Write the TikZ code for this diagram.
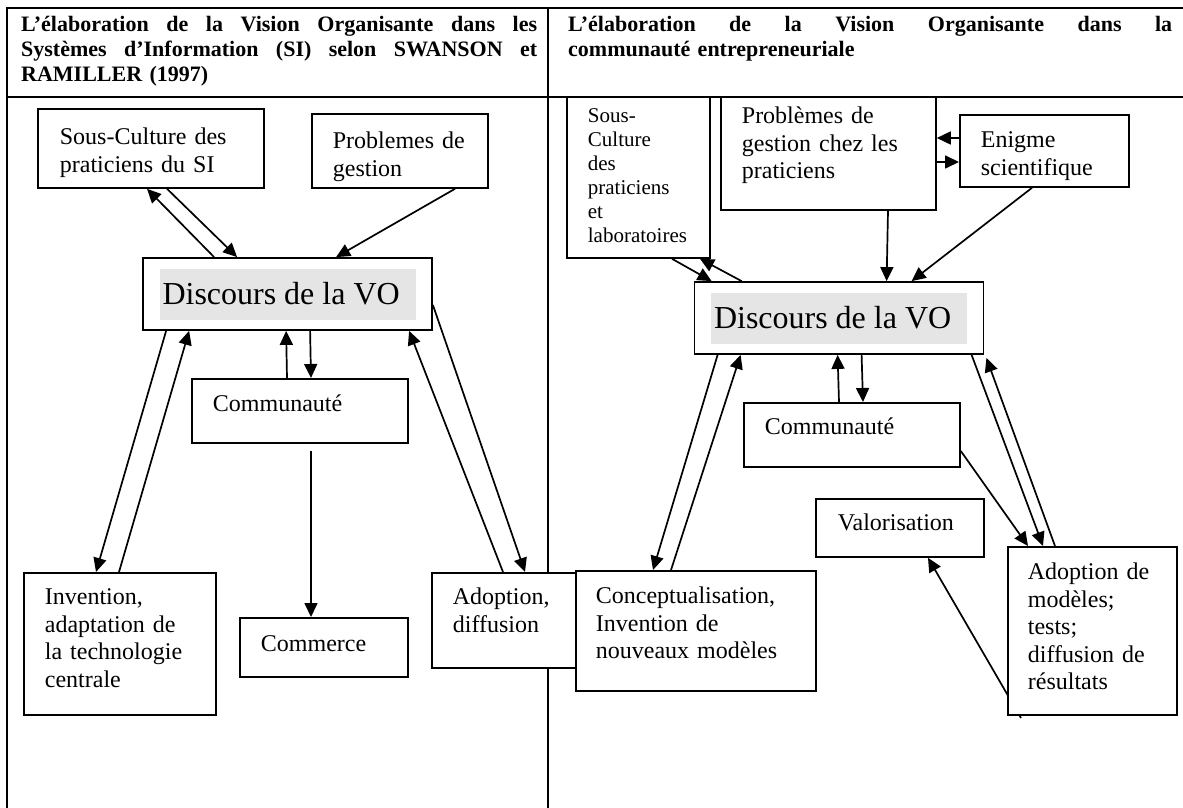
\documentclass[tikz,border=0pt]{standalone}
\usepackage{fontspec}
\setmainfont{Liberation Serif}
\usetikzlibrary{arrows.meta}

\begin{document}
\begin{tikzpicture}[x=1pt, y=-1pt,
    box/.style={draw, line width=1.8pt, fill=white, anchor=north west, align=left, inner xsep=21pt, text height=17pt, font=\fontsize{24}{27.5}\selectfont},
    vobox/.style={draw, line width=1.8pt, fill=white, minimum width=289pt, minimum height=72pt, inner sep=0pt, font=\fontsize{32}{38}\selectfont},
    head/.style={anchor=base west, inner sep=0pt, align=left, font=\fontsize{22}{25}\selectfont\bfseries},
    frame/.style={line width=1.8pt},
    edge/.style={-{Triangle[length=14pt,width=13pt]}, line width=1.7pt}
  ]
    \useasboundingbox (0,0) rectangle (1183,808);
    % Table frame
    \draw[frame] (7,808) -- (7,8) -- (1183,8);
    \draw[frame] (7,97) -- (1183,97);
    \draw[frame] (548,8) -- (548,808);
    % Headers
    \node[head, text width=516pt] (headL) at (21,32)
      {L'élaboration\hfill de\hfill la\hfill Vision\hfill Organisante\hfill dans\hfill les\\
       Systèmes\hfill d'Information\hfill (SI)\hfill selon\hfill SWANSON\hfill et\\
       RAMILLER (1997)};
    \node[head, text width=604pt] (headR) at (568,32)
      {L'élaboration\hfill de\hfill la\hfill Vision\hfill Organisante\hfill dans\hfill la\\
       communauté entrepreneuriale};

    % Left panel: Swanson et Ramiller
    \node[box, inner xsep=22pt, text width=182pt, inner ysep=19pt, text depth=24pt] (scL) at (37,108) {Sous-Culture des\\praticiens du SI};
    \node[box, text width=134pt, inner ysep=18pt, text depth=21pt] (pgL) at (311,113) {Problemes de\\gestion};
    \node[vobox] (discL) at (287.5,294) {\setlength{\fboxsep}{0pt}\colorbox{gray!20}{\parbox[c][51pt][c]{256pt}{\hspace*{3pt}Discours de la VO}}};
    \node[box, text width=174pt, inner ysep=16pt, text depth=15pt] (comL) at (191,378) {Communauté};
    \node[box, text width=126pt, inner ysep=17pt, text depth=8pt] (comrc) at (239,617) {Commerce};
    \node[box, text width=150pt, inner ysep=15pt, text depth=95pt] (invL) at (23,572) {Invention,\\adaptation de\\la technologie\\centrale};
    \node[box, text width=102pt, inner ysep=15pt, text depth=48pt] (adopL) at (431,572) {Adoption,\\diffusion};

    % Right panel: communaute entrepreneuriale
    \node[box, inner xsep=20pt, text width=200pt, inner ysep=16pt, text depth=71pt] (concR) at (575,570) {Conceptualisation,\\Invention de\\nouveaux modèles};
    \node[box, text width=101pt, inner ysep=11pt, text height=15pt, text depth=124pt, font=\fontsize{21}{24}\selectfont] (scR) at (566,96) {Sous-\\Culture\\des\\praticiens\\et\\laboratoires};
    \node[box, text width=173pt, inner ysep=10pt, text depth=76pt] (pgR) at (720,96) {Problèmes de\\gestion chez les\\praticiens};
    \node[box, text width=127pt, inner ysep=16pt, text depth=23pt] (enig) at (959,114) {Enigme\\scientifique};
    \node[vobox] (discR) at (839,318) {\setlength{\fboxsep}{0pt}\colorbox{gray!20}{\parbox[c][51pt][c]{256pt}{\hspace*{3pt}Discours de la VO}}};
    \node[box, text width=174pt, inner ysep=15pt, text depth=17pt] (comR) at (743,402) {Communauté};
    \node[box, inner xsep=22pt, text width=124pt, inner ysep=15pt, text depth=11pt] (valR) at (815,498) {Valorisation};
    \coordinate (valTail) at (1021,718);
    \draw[edge] (valTail) -- ([xshift=113pt]valR.south west);
    \node[box, inner xsep=20pt, text width=129pt, inner ysep=16pt, text depth=119pt] (adopR) at (1007,546) {Adoption de\\modèles;\\tests;\\diffusion de\\résultats};

    % Edges: left panel
    \draw[edge] ([xshift=130pt]scL.south west) -- ([xshift=95pt]discL.north west);
    \draw[edge] ([xshift=72pt]discL.north west) -- ([xshift=110pt]scL.south west);
    \draw[edge] ([xshift=144pt]pgL.south west) -- ([xshift=194pt]discL.north west);
    \draw[edge] ([xshift=24pt]discL.south west) -- ([xshift=73pt]invL.north west);
    \draw[edge] ([xshift=96pt]invL.north west) -- ([xshift=47pt]discL.south west);
    \draw[edge] ([xshift=96pt]comL.north west) -- ([xshift=144pt]discL.south west);
    \draw[edge] ([xshift=168pt]discL.south west) -- ([xshift=120pt]comL.north west);
    \draw[edge, shorten <=7pt] ([xshift=120pt]comL.south west) -- ([xshift=72pt]comrc.north west);
    \draw[edge] ([yshift=-11pt]discL.east) -- ([xshift=94pt]adopL.north west);
    \draw[edge] ([xshift=72pt]adopL.north west) -- ([xshift=267pt]discL.south west);

    % Edges: right panel
    \draw[edge] ([xshift=106pt]scR.south west) -- ([xshift=18pt]discR.north west);
    \draw[edge] ([xshift=48pt]discR.north west) -- ([xshift=134pt]scR.south west);
    \draw[edge] ([xshift=168pt]pgR.south west) -- ([xshift=193pt]discR.north west);
    \draw[edge] ([yshift=-24pt]enig.north west) -- ([yshift=-42pt]pgR.north east);
    \draw[edge] ([yshift=-66pt]pgR.north east) -- ([yshift=-48pt]enig.north west);
    \draw[edge] ([xshift=73pt]enig.south west) -- ([xshift=218pt]discR.north west);
    \draw[edge] ([xshift=24pt]discR.south west) -- ([xshift=78pt]concR.north west);
    \draw[edge] ([xshift=96pt]concR.north west) -- ([xshift=47pt]discR.south west);
    \draw[edge] ([xshift=96pt]comR.north west) -- ([xshift=144pt]discR.south west);
    \draw[edge] ([xshift=168pt]discR.south west) -- ([xshift=120pt]comR.north west);
    \draw[edge] ([yshift=-49pt]comR.north east) -- ([xshift=21pt]adopR.north west);
    \draw[edge] ([xshift=278pt]discR.south west) -- ([xshift=36pt]adopR.north west);
    \draw[edge] ([xshift=48pt]adopR.north west) -- ([xshift=2pt,yshift=-3pt]discR.south east);
\end{tikzpicture}
\end{document}
